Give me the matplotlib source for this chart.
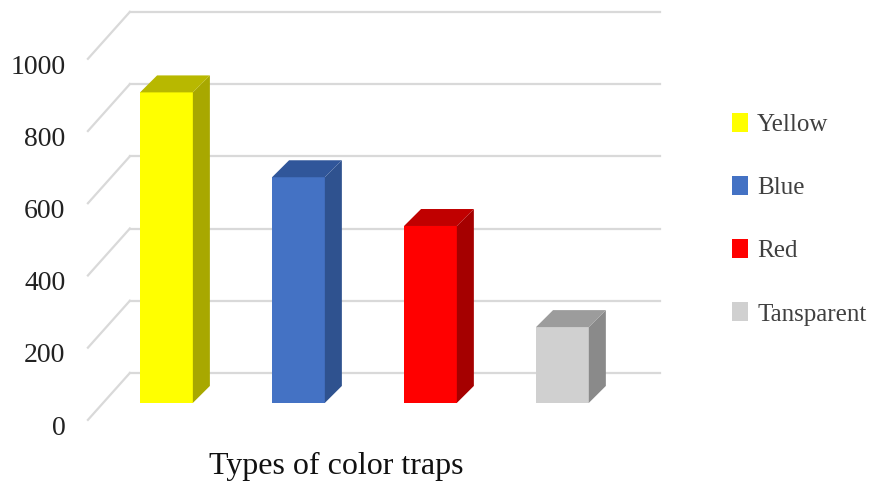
import matplotlib.pyplot as plt
from matplotlib.patches import Polygon, Patch

# data
categories = ['Yellow', 'Blue', 'Red', 'Tansparent']
counts = [860, 625, 490, 210]
yticks = [0, 200, 400, 600, 800, 1000]

front_colors = ['#FFFF00', '#4472C4', '#FF0000', '#D0D0D0']
side_colors = ['#A8A800', '#2F528F', '#A50000', '#8A8A8A']
top_colors = ['#B8B800', '#30569A', '#C00000', '#9C9C9C']

plt.rcParams['font.family'] = ['Liberation Serif', 'DejaVu Serif']

fig = plt.figure(figsize=(8.77, 4.93), dpi=100)
W, H = 877, 493
ax = fig.add_axes([80 / W, 1 - 430 / H, 590 / W, 425 / H])
ax.set_xlim(-0.655, 3.815)
ax.set_ylim(-75, 1102)
ax.axis('off')

# oblique depth offsets (data units)
bar_w = 0.40
bdx, bdy = 0.129, 47       # bar depth
wdx, wdy = 0.20, 83        # back wall relative to bar fronts
fx, fdy = -0.595, -47      # front-left end of the wall diagonals
bx = -0.277                # back-left corner
grid_c = '#D9D9D9'

for v in yticks:
    ax.plot([bx, 3.74], [v + wdy, v + wdy], color=grid_c, lw=1.6, zorder=1)
    ax.plot([fx, bx], [v + fdy, v + wdy], color=grid_c, lw=1.6, zorder=1)
    ax.text(fx - 0.17, v - 70, str(v), ha='right', va='center',
            fontsize=20, color='#222222', clip_on=False)

xs = list(range(len(categories)))
ax.bar(xs, counts, width=bar_w, color=front_colors, zorder=3)
for x, v, sc, tc in zip(xs, counts, side_colors, top_colors):
    r = x + bar_w / 2
    l = x - bar_w / 2
    ax.add_patch(Polygon([(r, 0), (r + bdx, bdy), (r + bdx, v + bdy), (r, v)],
                         closed=True, facecolor=sc, edgecolor='none', zorder=3))
    ax.add_patch(Polygon([(l, v), (r, v), (r + bdx, v + bdy), (l + bdx, v + bdy)],
                         closed=True, facecolor=tc, edgecolor='none', zorder=3))

fig.text(336 / W, 1 - 466 / H, 'Types of color traps', ha='center', va='center',
         fontsize=23, color='#111111')

handles = [Patch(facecolor=c, edgecolor='none') for c in front_colors]
fig.legend(handles, categories, loc='center left',
           bbox_to_anchor=(732 / W, 1 - 219 / H), frameon=False, borderpad=0,
           borderaxespad=0, fontsize=18, labelcolor='#404040',
           handlelength=0.64, handleheight=0.8, handletextpad=0.36,
           labelspacing=1.6)

fig.savefig('out.png', dpi=100)
